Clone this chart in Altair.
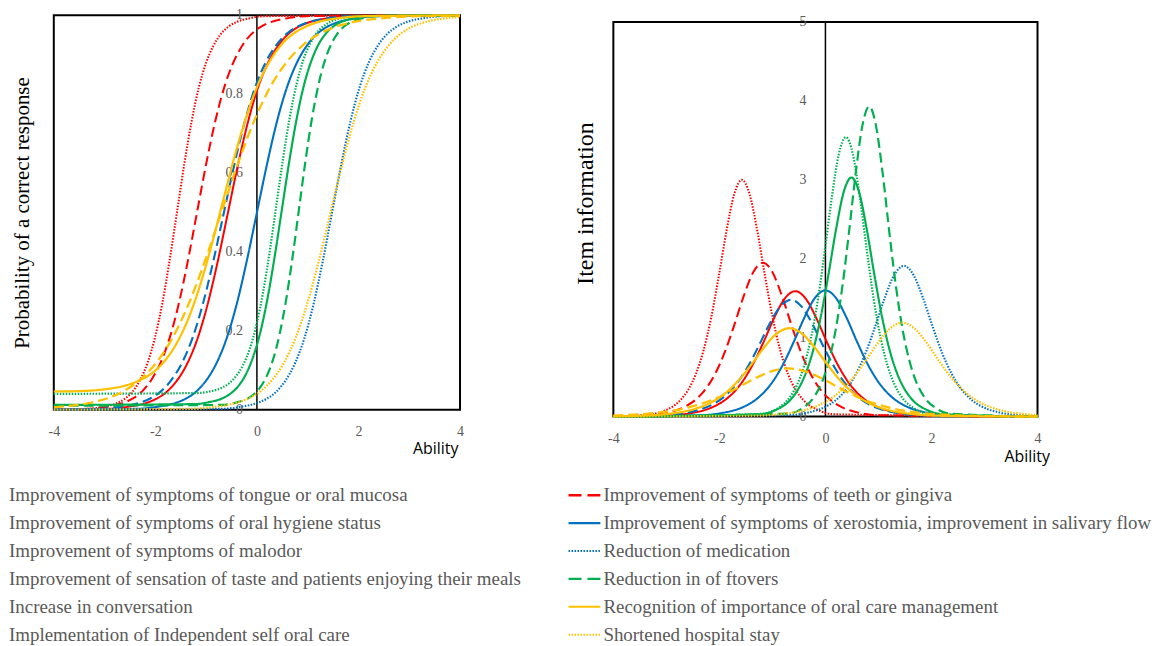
import altair as alt
import pandas as pd

# ---------------- legend / series names (legend order) ----------------
ITEMS = [
    "Improvement of symptoms of tongue or oral mucosa",
    "Improvement of symptoms of teeth or gingiva",
    "Improvement of symptoms of oral hygiene status",
    "Improvement of symptoms of xerostomia, improvement in salivary flow",
    "Improvement of symptoms of malodor",
    "Reduction of medication",
    "Improvement of sensation of taste and patients enjoying their meals",
    "Reduction in of ftovers",
    "Increase in conversation",
    "Recognition of importance of oral care management",
    "Implementation of Independent self oral care",
    "Shortened hospital stay",
]
COLORS = ["#FF0000", "#FF0000", "#FF0000",
          "#0070C0", "#0070C0", "#0070C0",
          "#00B050", "#00B050", "#00B050",
          "#FFC000", "#FFC000", "#FFC000"]
DASHES = [[1, 0], [10, 5], [1.5, 1.5]] * 4
WIDTHS = [2, 2.3, 1.6] * 4
LEGEND_DASHES = [[13, 6], [1, 0], [1.5, 1.5], [13, 6], [1, 0], [1.5, 1.5]]

# ---------------- values ----------------
tongue_theta = [-4, -2.951, -2.554, -2.157, -1.959, -1.760, -1.562, -1.364, -1.165, -0.967, -0.768, -0.570, -0.372, -0.173, 0.025, 0.224, 0.422, 0.620, 0.819, 1.017, 1.414, 1.811, 4]
tongue_p = [0.000, 0.002, 0.007, 0.018, 0.029, 0.047, 0.076, 0.119, 0.182, 0.269, 0.378, 0.500, 0.622, 0.731, 0.818, 0.881, 0.924, 0.953, 0.971, 0.982, 0.993, 0.998, 1.000]
tongue_info = [0.001, 0.016, 0.042, 0.112, 0.181, 0.287, 0.446, 0.668, 0.948, 1.250, 1.495, 1.590, 1.495, 1.250, 0.948, 0.668, 0.446, 0.287, 0.181, 0.112, 0.042, 0.016, 0.000]

teeth_theta = [-4, -3.331, -2.972, -2.614, -2.434, -2.255, -2.076, -1.897, -1.718, -1.538, -1.359, -1.180, -1.001, -0.822, -0.642, -0.463, -0.284, -0.105, 0.074, 0.254, 0.612, 0.971, 4]
teeth_p = [0.000, 0.002, 0.007, 0.018, 0.029, 0.047, 0.076, 0.119, 0.182, 0.269, 0.378, 0.500, 0.622, 0.731, 0.818, 0.881, 0.924, 0.953, 0.971, 0.982, 0.993, 0.998, 1.000]
teeth_info = [0.003, 0.019, 0.052, 0.138, 0.222, 0.352, 0.547, 0.819, 1.163, 1.533, 1.833, 1.950, 1.833, 1.533, 1.163, 0.819, 0.547, 0.352, 0.222, 0.138, 0.052, 0.019, 0.000]

hygiene_theta = [-4, -3.309, -3.020, -2.731, -2.587, -2.442, -2.298, -2.153, -2.009, -1.864, -1.720, -1.575, -1.431, -1.286, -1.142, -0.997, -0.853, -0.708, -0.564, -0.419, -0.130, 0.159, 4]
hygiene_p = [0.000, 0.002, 0.007, 0.018, 0.029, 0.047, 0.076, 0.119, 0.182, 0.269, 0.378, 0.500, 0.622, 0.731, 0.818, 0.881, 0.924, 0.953, 0.971, 0.982, 0.993, 0.998, 1.000]
hygiene_info = [0.003, 0.030, 0.080, 0.212, 0.341, 0.542, 0.841, 1.260, 1.790, 2.359, 2.820, 3.000, 2.820, 2.359, 1.790, 1.260, 0.841, 0.542, 0.341, 0.212, 0.080, 0.030, 0.000]

xerostomia_theta = [-4, -2.372, -1.976, -1.581, -1.383, -1.186, -0.988, -0.791, -0.593, -0.395, -0.198, 0.000, 0.198, 0.395, 0.593, 0.791, 0.988, 1.186, 1.383, 1.581, 1.976, 2.372, 4]
xerostomia_p = [0.000, 0.002, 0.007, 0.018, 0.029, 0.047, 0.076, 0.119, 0.182, 0.269, 0.378, 0.500, 0.622, 0.731, 0.818, 0.881, 0.924, 0.953, 0.971, 0.982, 0.993, 0.998, 1.000]
xerostomia_info = [0.000, 0.016, 0.043, 0.113, 0.182, 0.289, 0.449, 0.672, 0.954, 1.258, 1.504, 1.600, 1.504, 1.258, 0.954, 0.672, 0.449, 0.289, 0.182, 0.113, 0.043, 0.016, 0.000]

malodor_theta = [-4, -3.119, -2.708, -2.296, -2.090, -1.885, -1.679, -1.473, -1.267, -1.062, -0.856, -0.650, -0.444, -0.238, -0.033, 0.173, 0.379, 0.585, 0.790, 0.996, 1.408, 1.819, 4]
malodor_p = [0.000, 0.002, 0.007, 0.018, 0.029, 0.047, 0.076, 0.119, 0.182, 0.269, 0.378, 0.500, 0.622, 0.731, 0.818, 0.881, 0.924, 0.953, 0.971, 0.982, 0.993, 0.998, 1.000]
malodor_info = [0.002, 0.015, 0.039, 0.105, 0.168, 0.267, 0.415, 0.622, 0.883, 1.164, 1.391, 1.480, 1.391, 1.164, 0.883, 0.622, 0.415, 0.267, 0.168, 0.105, 0.039, 0.015, 0.000]

medication_theta = [-4, -0.694, -0.332, 0.031, 0.212, 0.393, 0.574, 0.755, 0.937, 1.118, 1.299, 1.480, 1.661, 1.842, 2.023, 2.205, 2.386, 2.567, 2.748, 2.929, 3.292, 3.654, 4]
medication_p = [0.000, 0.002, 0.007, 0.018, 0.029, 0.047, 0.076, 0.119, 0.182, 0.269, 0.378, 0.500, 0.622, 0.731, 0.818, 0.881, 0.924, 0.953, 0.971, 0.982, 0.993, 0.998, 0.999]
medication_info = [0.000, 0.019, 0.051, 0.135, 0.217, 0.345, 0.536, 0.802, 1.139, 1.502, 1.795, 1.910, 1.795, 1.502, 1.139, 0.802, 0.536, 0.345, 0.217, 0.135, 0.051, 0.019, 0.007]

taste_theta = [-4, -1.234, -0.947, -0.659, -0.516, -0.372, -0.228, -0.085, 0.059, 0.203, 0.346, 0.490, 0.634, 0.777, 0.921, 1.065, 1.208, 1.352, 1.496, 1.639, 1.927, 2.214, 4]
taste_p = [0.012, 0.014, 0.019, 0.030, 0.041, 0.059, 0.087, 0.130, 0.192, 0.278, 0.385, 0.506, 0.627, 0.734, 0.820, 0.882, 0.925, 0.953, 0.971, 0.982, 0.993, 0.998, 1.000]
taste_info = [0.000, 0.030, 0.081, 0.214, 0.345, 0.548, 0.850, 1.273, 1.807, 2.383, 2.848, 3.030, 2.848, 2.383, 1.807, 1.273, 0.850, 0.548, 0.345, 0.214, 0.081, 0.030, 0.000]

leftovers_theta = [-4, -0.690, -0.438, -0.185, -0.059, 0.067, 0.194, 0.320, 0.446, 0.572, 0.699, 0.825, 0.951, 1.078, 1.204, 1.330, 1.456, 1.583, 1.709, 1.835, 2.088, 2.340, 4]
leftovers_p = [0.010, 0.012, 0.017, 0.028, 0.039, 0.057, 0.085, 0.128, 0.191, 0.276, 0.384, 0.505, 0.626, 0.734, 0.819, 0.882, 0.925, 0.953, 0.971, 0.982, 0.993, 0.998, 1.000]
leftovers_info = [0.000, 0.039, 0.104, 0.278, 0.447, 0.710, 1.102, 1.651, 2.344, 3.091, 3.694, 3.930, 3.694, 3.091, 2.344, 1.651, 1.102, 0.710, 0.447, 0.278, 0.104, 0.039, 0.000]

conversation_theta = [-4, -1.194, -0.931, -0.668, -0.536, -0.404, -0.273, -0.141, -0.010, 0.122, 0.253, 0.385, 0.517, 0.648, 0.780, 0.911, 1.043, 1.174, 1.306, 1.438, 1.701, 1.964, 4]
conversation_p = [0.040, 0.042, 0.046, 0.057, 0.068, 0.086, 0.113, 0.154, 0.215, 0.298, 0.402, 0.520, 0.638, 0.742, 0.825, 0.886, 0.927, 0.955, 0.972, 0.983, 0.994, 0.998, 1.000]
conversation_info = [0.000, 0.035, 0.094, 0.250, 0.403, 0.640, 0.993, 1.487, 2.112, 2.784, 3.328, 3.540, 3.328, 2.784, 2.112, 1.487, 0.993, 0.640, 0.403, 0.250, 0.094, 0.035, 0.000]

caremgmt_theta = [-4, -3.510, -3.038, -2.567, -2.331, -2.095, -1.859, -1.623, -1.388, -1.152, -0.916, -0.680, -0.444, -0.208, 0.028, 0.263, 0.499, 0.735, 0.971, 1.207, 1.678, 2.150, 4]
caremgmt_p = [0.046, 0.047, 0.051, 0.062, 0.073, 0.090, 0.117, 0.159, 0.219, 0.302, 0.406, 0.523, 0.640, 0.743, 0.826, 0.886, 0.928, 0.955, 0.972, 0.983, 0.994, 0.998, 1.000]
caremgmt_info = [0.004, 0.011, 0.030, 0.079, 0.127, 0.202, 0.314, 0.470, 0.668, 0.881, 1.053, 1.120, 1.053, 0.881, 0.668, 0.470, 0.314, 0.202, 0.127, 0.079, 0.030, 0.011, 0.000]

selfcare_theta = [-4, -3.905, -3.264, -2.944, -2.623, -2.303, -1.982, -1.662, -1.341, -1.021, -0.700, -0.379, -0.059, 0.262, 0.582, 0.903, 1.223, 1.544, 1.864, 2.505, 3.146, 4]
selfcare_p = [0.006, 0.007, 0.018, 0.029, 0.047, 0.076, 0.119, 0.182, 0.269, 0.378, 0.500, 0.622, 0.731, 0.818, 0.881, 0.924, 0.953, 0.971, 0.982, 0.993, 0.998, 0.999]
selfcare_info = [0.014, 0.016, 0.043, 0.069, 0.110, 0.171, 0.256, 0.364, 0.480, 0.573, 0.610, 0.573, 0.480, 0.364, 0.256, 0.171, 0.110, 0.069, 0.043, 0.016, 0.006, 0.002]

hospital_theta = [-4, -1.302, -0.844, -0.385, -0.156, 0.074, 0.303, 0.533, 0.762, 0.991, 1.221, 1.450, 1.679, 1.909, 2.138, 2.367, 2.597, 2.826, 3.056, 3.285, 3.744, 4]
hospital_p = [0.000, 0.002, 0.007, 0.018, 0.029, 0.047, 0.076, 0.119, 0.182, 0.269, 0.378, 0.500, 0.622, 0.731, 0.818, 0.881, 0.924, 0.953, 0.971, 0.982, 0.993, 0.996]
hospital_info = [0.000, 0.012, 0.032, 0.084, 0.135, 0.215, 0.334, 0.500, 0.710, 0.936, 1.119, 1.190, 1.119, 0.936, 0.710, 0.500, 0.334, 0.215, 0.135, 0.084, 0.032, 0.018]

X_TICKS = [-4, -2, 0, 2, 4]
P_TICKS = [0, 0.2, 0.4, 0.6, 0.8, 1]
P_LABELS = ["0", "0.2", "0.4", "0.6", "0.8", "1"]
I_TICKS = [0, 1, 2, 3, 4, 5]
I_LABELS = ["0", "1", "2", "3", "4", "5"]

SERIES = [
    (tongue_theta, tongue_p, tongue_info),
    (teeth_theta, teeth_p, teeth_info),
    (hygiene_theta, hygiene_p, hygiene_info),
    (xerostomia_theta, xerostomia_p, xerostomia_info),
    (malodor_theta, malodor_p, malodor_info),
    (medication_theta, medication_p, medication_info),
    (taste_theta, taste_p, taste_info),
    (leftovers_theta, leftovers_p, leftovers_info),
    (conversation_theta, conversation_p, conversation_info),
    (caremgmt_theta, caremgmt_p, caremgmt_info),
    (selfcare_theta, selfcare_p, selfcare_info),
    (hospital_theta, hospital_p, hospital_info),
]

rows = []
for k, (th, pp, inf) in enumerate(SERIES):
    for t, p, i in zip(th, pp, inf):
        rows.append({"item": ITEMS[k], "k": k, "theta": t, "p": p, "info": i})
df = pd.DataFrame(rows)

SERIF = "Liberation Serif"
GRAY = "#595959"

color_scale = alt.Scale(domain=ITEMS, range=COLORS)
dash_scale = alt.Scale(domain=ITEMS, range=DASHES)
width_scale = alt.Scale(domain=ITEMS, range=WIDTHS)


def panel(ycol, ydomain, yrange, width, height, ytitle, tsize, tpad, tvals,
          tlabels, label_dx, ab_x, ab_y, ytitle_y=None):
    xs = alt.Scale(domain=[-4, 4], nice=False, zero=False)
    ysk = dict(domain=ydomain, nice=False, zero=False)
    if yrange is not None:
        ysk["range"] = yrange
    ys = alt.Scale(**ysk)
    xaxis = alt.Axis(values=X_TICKS, labelExpr="'' + datum.value", labelFlush=False,
                     labelFont=SERIF, labelFontSize=14, labelColor=GRAY,
                     labelPadding=15, ticks=False, tickSize=0, domain=False,
                     grid=False, title="Ability", titleFont="Open Sans",
                     titleFontSize=16, titleFontWeight="normal", titleColor="black",
                     titleX=ab_x, titleY=ab_y, titleAlign="right",
                     titleBaseline="alphabetic")
    yk = dict(labels=False, ticks=False, domain=False, grid=False, title=ytitle,
              titleFont=SERIF, titleFontSize=tsize, titleFontWeight="normal",
              titleColor="black", titlePadding=tpad)
    if ytitle_y is not None:
        yk["titleY"] = ytitle_y
    yaxis = alt.Axis(**yk)

    box = pd.DataFrame({"x0": [-4], "x1": [4], "y0": [ydomain[0]], "y1": [ydomain[1]], "z": [0]})
    frame = alt.Chart(box).mark_rect(fill="transparent", stroke="black", strokeWidth=2).encode(
        x=alt.X("x0:Q", scale=xs, axis=xaxis), x2="x1:Q",
        y=alt.Y("y0:Q", scale=ys, axis=yaxis), y2="y1:Q")
    zero = alt.Chart(box).mark_rule(color="black", strokeWidth=1.5).encode(
        x=alt.X("z:Q", scale=xs, axis=xaxis),
        y=alt.Y("y0:Q", scale=ys, axis=yaxis), y2="y1:Q")
    tdf = pd.DataFrame({"v": tvals, "t": tlabels, "z": [0] * len(tvals)})
    ticks = alt.Chart(tdf).mark_text(align="right", baseline="middle", dx=label_dx,
                                     font=SERIF, fontSize=14, color=GRAY).encode(
        x=alt.X("z:Q", scale=xs, axis=xaxis),
        y=alt.Y("v:Q", scale=ys, axis=yaxis), text="t:N")
    lines = alt.Chart(df).mark_line(interpolate="monotone").encode(
        x=alt.X("theta:Q", scale=xs, axis=xaxis),
        y=alt.Y(f"{ycol}:Q", scale=ys, axis=yaxis),
        color=alt.Color("item:N", scale=color_scale, legend=None),
        strokeDash=alt.StrokeDash("item:N", scale=dash_scale, legend=None),
        strokeWidth=alt.StrokeWidth("item:N", scale=width_scale, legend=None),
        order=alt.Order("k:Q"),
    )
    return alt.layer(frame, zero, ticks, lines).properties(width=width, height=height)


left = panel("p", [0, 1], None, 408, 396, "Probability of a correct response", 21, 21.5,
             P_TICKS, P_LABELS, -14, 406, 44)
right = panel("info", [0, 5], [403, 6.7], 426, 403, "Item information", 24, 16,
              I_TICKS, I_LABELS, -19, 438, 45, ytitle_y=188.5)

# ---------------- legend ----------------
LEG_ROW = [0, 1, 2, 3, 4, 5]
leg_left = pd.DataFrame({"row": LEG_ROW, "label": ITEMS[0::2]})
leg_right = pd.DataFrame({"row": LEG_ROW, "label": ITEMS[1::2], "item": ITEMS[1::2]})
ly = alt.Scale(domain=[0, 5], range=[0, 140])

lt = alt.Chart(leg_left).mark_text(align="left", baseline="middle", font=SERIF,
                                   fontSize=19, color=GRAY).encode(
    x=alt.value(-45), y=alt.Y("row:Q", scale=ly, axis=None), text="label:N")
rt = alt.Chart(leg_right).mark_text(align="left", baseline="middle", font=SERIF,
                                    fontSize=19, color=GRAY).encode(
    x=alt.value(552), y=alt.Y("row:Q", scale=ly, axis=None), text="label:N")
rs = alt.Chart(leg_right).mark_rule().encode(
    x=alt.value(517), x2=alt.value(549), y=alt.Y("row:Q", scale=ly, axis=None),
    color=alt.Color("item:N", scale=alt.Scale(domain=ITEMS[1::2], range=COLORS[1::2]), legend=None),
    strokeDash=alt.StrokeDash("item:N", scale=alt.Scale(domain=ITEMS[1::2], range=LEGEND_DASHES), legend=None),
    strokeWidth=alt.StrokeWidth("item:N", scale=alt.Scale(domain=ITEMS[1::2], range=WIDTHS[1::2]), legend=None),
)
legend = alt.layer(lt, rs, rt).properties(width=408, height=140)

chart = alt.concat(left, right, legend, columns=2, bounds="flush",
                   spacing={"row": 79, "column": 154}).resolve_scale(
    color="independent", strokeDash="independent", strokeWidth="independent"
).properties(
    padding={"left": 0, "top": -2, "right": 0, "bottom": 0},
    background="white",
).configure_view(stroke="transparent")

chart.save("out.html", embed_options={"renderer": "svg", "actions": False})
